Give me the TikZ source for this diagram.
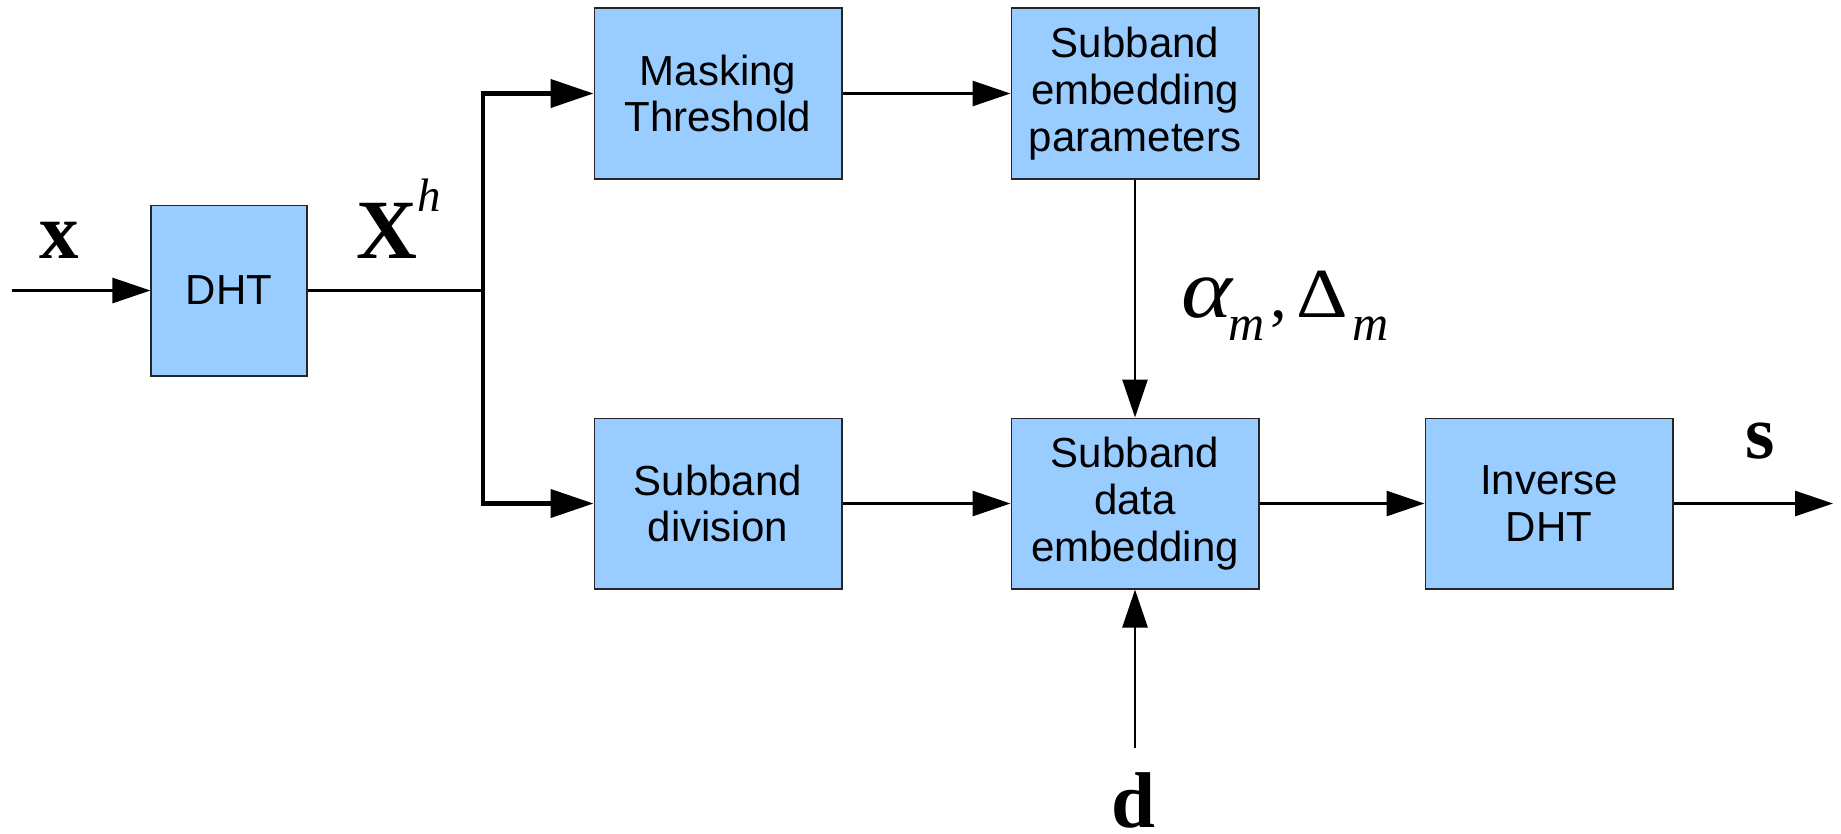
\documentclass[tikz,border=0pt]{standalone}
\usepackage{fontspec}
\setmainfont{Liberation Sans}
\newfontfamily\tnr{Liberation Serif}
\usetikzlibrary{arrows.meta}
\definecolor{boxblue}{HTML}{99CCFF}
\newcommand\putat[2]{\makebox[0pt][l]{\hspace{#1}#2}}
\begin{document}
\begin{tikzpicture}[x=0.02cm,y=-0.02cm,
  blk/.style={draw=black!85, line width=0.6pt, fill=boxblue, align=center, inner sep=0pt,
    minimum width=4.96cm, minimum height=3.42cm, font=\fontsize{23.9pt}{26.7pt}\selectfont},
  conn/.style={line width=1.5pt, -{Triangle[length=0.76cm,width=0.5cm]}},
  thkarr/.style={line width=2.4pt, -{Triangle[length=0.86cm,width=0.56cm]}},
  lbl/.style={inner sep=0pt, anchor=base}]
\useasboundingbox (0,0) rectangle (1841,833);
\node[blk, minimum width=3.12cm] (dht) at (229,290.5) {DHT};
\node[blk] (mask) at (718,93.5) {Masking\\Threshold};
\node[blk] (sep) at (1135,93.5) {Subband\\embedding\\parameters};
\node[blk] (div) at (718,503.5) {Subband\\division};
\node[blk] (sde) at (1135,503.5) {Subband\\data\\embedding};
\node[blk] (inv) at (1549,503.5) {Inverse\\DHT};
\coordinate (in) at (12,290.5);
\coordinate (br) at (483,290.5);
\coordinate (bt) at (483,93.5);
\coordinate (bb) at (483,503.5);
\coordinate (out) at (1833,503.5);
\coordinate (din) at (1135,748);
\draw[conn] (in) -- (dht.west);
\draw[line width=1.5pt] (dht.east) -- (br);
\draw[thkarr] (bb) -- (bt) -- (mask.west);
\draw[thkarr] (bt) -- (bb) -- (div.west);
\draw[conn] (mask.east) -- (sep.west);
\draw[conn] (sep.south) -- (sde.north);
\draw[conn] (div.east) -- (sde.west);
\draw[conn] (sde.east) -- (inv.west);
\draw[conn] (inv.east) -- (out);
\draw[conn] (din) -- (sde.south);
\node[lbl] (lx) at (59,258) {\fontsize{45pt}{45pt}\tnr\bfseries x};
\node[lbl, anchor=base west] (lX) at (356,258) {\fontsize{48pt}{48pt}\tnr\bfseries X\raisebox{0.94cm}{\fontsize{26.7pt}{26.7pt}\tnr\mdseries\itshape h}};
\node[lbl] (ls) at (1760,458) {\fontsize{43pt}{43pt}\tnr\bfseries s};
\node[lbl] (ld) at (1133,827) {\fontsize{45pt}{45pt}\tnr\bfseries d};
\node[lbl, anchor=base west] (lam) at (1180,317) {\putat{0cm}{\scalebox{1.15}[1]{\fontsize{48pt}{48pt}\tnr\itshape α}}\putat{0.94cm}{\raisebox{-0.46cm}{\fontsize{28.5pt}{28.5pt}\tnr\itshape m}}\putat{1.78cm}{\fontsize{38pt}{38pt}\tnr ,}\putat{2.3cm}{\scalebox{1.14}[1]{\fontsize{40pt}{40pt}\tnr Δ}}\putat{3.42cm}{\raisebox{-0.46cm}{\fontsize{28.5pt}{28.5pt}\tnr\itshape m}}\hspace{4.06cm}};
\end{tikzpicture}
\end{document}
